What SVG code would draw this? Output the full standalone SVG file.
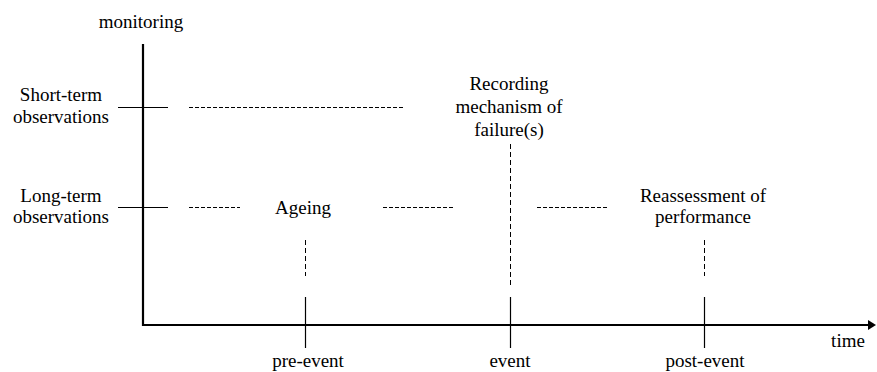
<svg xmlns="http://www.w3.org/2000/svg" width="877" height="372" viewBox="0 0 877 372">
<style>
.ax{stroke:#000;stroke-width:2.2;fill:none}
.tk{stroke:#000;stroke-width:1.2;fill:none}
.dh{stroke:#000;stroke-width:1;stroke-dasharray:4 2;fill:none}
.dv{stroke:#000;stroke-width:1;stroke-dasharray:5 3;fill:none}
</style>
<defs>
<marker id="arr" markerWidth="8" markerHeight="10" refX="1" refY="5" orient="auto" markerUnits="userSpaceOnUse">
<path d="M0,0 L8,5 L0,10 Z" fill="#000"/>
</marker>
</defs>
<rect width="877" height="372" fill="#fff"/>
<g id="connectors">
<line class="ax" x1="143" y1="44" x2="143" y2="326"/>
<line class="ax" x1="142" y1="325" x2="869" y2="325" marker-end="url(#arr)"/>
<line class="tk" x1="118" y1="107.5" x2="168" y2="107.5"/>
<line class="tk" x1="118" y1="207.5" x2="168" y2="207.5"/>
<line class="dh" x1="189" y1="107.5" x2="405" y2="107.5"/>
<line class="dh" x1="189" y1="207.5" x2="240" y2="207.5"/>
<line class="dh" x1="383" y1="207.5" x2="455" y2="207.5"/>
<line class="dh" x1="537" y1="207.5" x2="609" y2="207.5"/>
<line class="dv" x1="305.5" y1="240" x2="305.5" y2="276"/>
<line class="dv" x1="510.5" y1="144" x2="510.5" y2="285"/>
<line class="dv" x1="704.5" y1="240" x2="704.5" y2="276"/>
<line class="tk" x1="305.5" y1="297" x2="305.5" y2="348"/>
<line class="tk" x1="510.5" y1="297" x2="510.5" y2="348"/>
<line class="tk" x1="704.5" y1="297" x2="704.5" y2="348"/>
</g>
<g id="axis-y-label"><text x="141" y="28" font-family="Liberation Serif" font-size="19" text-anchor="middle">monitoring</text></g>
<g id="short-term"><text x="61" y="101" font-family="Liberation Serif" font-size="19" text-anchor="middle">Short-term</text><text x="61" y="123" font-family="Liberation Serif" font-size="19" text-anchor="middle">observations</text></g>
<g id="long-term"><text x="61" y="202" font-family="Liberation Serif" font-size="19" text-anchor="middle">Long-term</text><text x="61" y="223" font-family="Liberation Serif" font-size="19" text-anchor="middle">observations</text></g>
<g id="ageing"><text x="303" y="214" font-family="Liberation Serif" font-size="19" text-anchor="middle">Ageing</text></g>
<g id="recording"><text x="509" y="90" font-family="Liberation Serif" font-size="19" text-anchor="middle">Recording</text><text x="509" y="113" font-family="Liberation Serif" font-size="19" text-anchor="middle">mechanism of</text><text x="509" y="136" font-family="Liberation Serif" font-size="19" text-anchor="middle">failure(s)</text></g>
<g id="reassessment"><text x="703" y="202" font-family="Liberation Serif" font-size="19" text-anchor="middle">Reassessment of</text><text x="703" y="223" font-family="Liberation Serif" font-size="19" text-anchor="middle">performance</text></g>
<g id="pre-event"><text x="308" y="367" font-family="Liberation Serif" font-size="19" text-anchor="middle">pre-event</text></g>
<g id="event"><text x="510" y="367" font-family="Liberation Serif" font-size="19" text-anchor="middle">event</text></g>
<g id="post-event"><text x="705" y="367" font-family="Liberation Serif" font-size="19" text-anchor="middle">post-event</text></g>
<g id="time"><text x="848" y="347" font-family="Liberation Serif" font-size="19" text-anchor="middle">time</text></g>
</svg>
